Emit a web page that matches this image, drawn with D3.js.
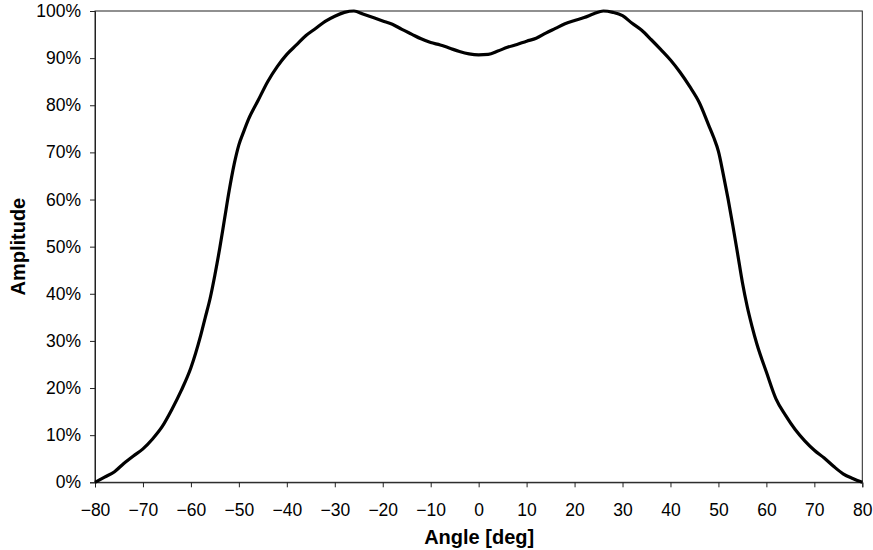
<!DOCTYPE html>
<html>
<head>
<meta charset="utf-8">
<script src="https://cdn.jsdelivr.net/npm/d3@7"></script>
<style>
  html, body { margin: 0; padding: 0; background: #fff; }
  svg { display: block; font-family: "Liberation Sans", Arial, sans-serif; }
</style>
</head>
<body>
<svg id="chart" width="873" height="550"></svg>
<script>
const angles = [-80,-78,-76,-74,-72,-70,-68,-66,-64,-62,-60,-58,-57,-56,-55,-54,-53,-52,-51,-50,-49,-48,-46,-44,-42,-40,-38,-36,-34,-32,-30,-28,-26,-24,-22,-20,-18,-16,-14,-12,-10,-8,-6,-4,-2,0,2,4,6,8,10,12,14,16,18,20,22,24,26,28,30,32,34,36,38,40,42,44,46,48,49,50,51,52,53,54,55,56,57,58,60,62,64,66,68,70,72,74,76,78,80];
const amplitude = [0,1.1,2.2,4.0,5.6,7.1,9.2,11.8,15.4,19.5,24.3,31.0,35.0,39.0,44.0,49.6,55.8,62.0,67.4,71.6,74.4,77.0,81.0,85.0,88.2,90.8,92.8,94.8,96.3,97.8,98.9,99.7,100,99.3,98.6,97.9,97.2,96.1,95.1,94.1,93.3,92.8,92.1,91.4,90.9,90.7,90.8,91.5,92.3,92.9,93.6,94.2,95.3,96.3,97.3,98.0,98.6,99.4,100,99.7,99.0,97.4,95.9,93.9,91.8,89.6,87.0,84.0,80.6,75.7,73.2,70.2,65.4,60.2,54.5,48.5,42.4,37.3,33.1,29.4,23.4,17.7,14.2,11.2,8.8,6.8,5.2,3.4,1.8,0.8,0];
const xTicks = [-80,-70,-60,-50,-40,-30,-20,-10,0,10,20,30,40,50,60,70,80];
const yTicks = [0,10,20,30,40,50,60,70,80,90,100];
const xTitle = "Angle [deg]";
const yTitle = "Amplitude";

const svg = d3.select("#chart");
const L = 95, R = 862.3, T = 11, B = 482.3;
const x = d3.scaleLinear().domain([-80, 80]).range([L, R]);
const y = d3.scaleLinear().domain([0, 100]).range([B, T]);

// frame
svg.append("rect").attr("x", L).attr("y", T).attr("width", R - L).attr("height", B - T)
  .attr("fill", "none").attr("stroke", "#222").attr("stroke-width", 1);

const xAxis = svg.append("g").attr("transform", `translate(0,${B})`)
  .call(d3.axisBottom(x).tickValues(xTicks).tickSize(5).tickPadding(16).tickFormat(d3.format("d")));
const yAxis = svg.append("g").attr("transform", `translate(${L},0)`)
  .call(d3.axisLeft(y).tickValues(yTicks).tickSize(5).tickPadding(9).tickFormat(d => d + "%"));
[xAxis, yAxis].forEach(g => {
  g.select(".domain").attr("stroke", "#222");
  g.selectAll(".tick line").attr("stroke", "#222");
  g.selectAll(".tick text").attr("fill", "#000").style("font-size", "17.5px")
    .style("font-family", "'Liberation Sans', Arial, sans-serif");
});

const line = d3.line().x((d, i) => x(angles[i])).y(d => y(d)).curve(d3.curveMonotoneX);
svg.append("path").datum(amplitude).attr("d", line)
  .attr("fill", "none").attr("stroke", "#000").attr("stroke-width", 3.2).attr("stroke-linejoin", "round");

svg.append("text").attr("x", (L + R) / 2 + 0.5).attr("y", 544).attr("text-anchor", "middle")
  .style("font-size", "20px").style("font-weight", "bold").text(xTitle);
svg.append("text").attr("transform", `translate(25,${(T + B) / 2}) rotate(-90)`).attr("text-anchor", "middle")
  .style("font-size", "20px").style("font-weight", "bold").text(yTitle);
</script>
</body>
</html>
